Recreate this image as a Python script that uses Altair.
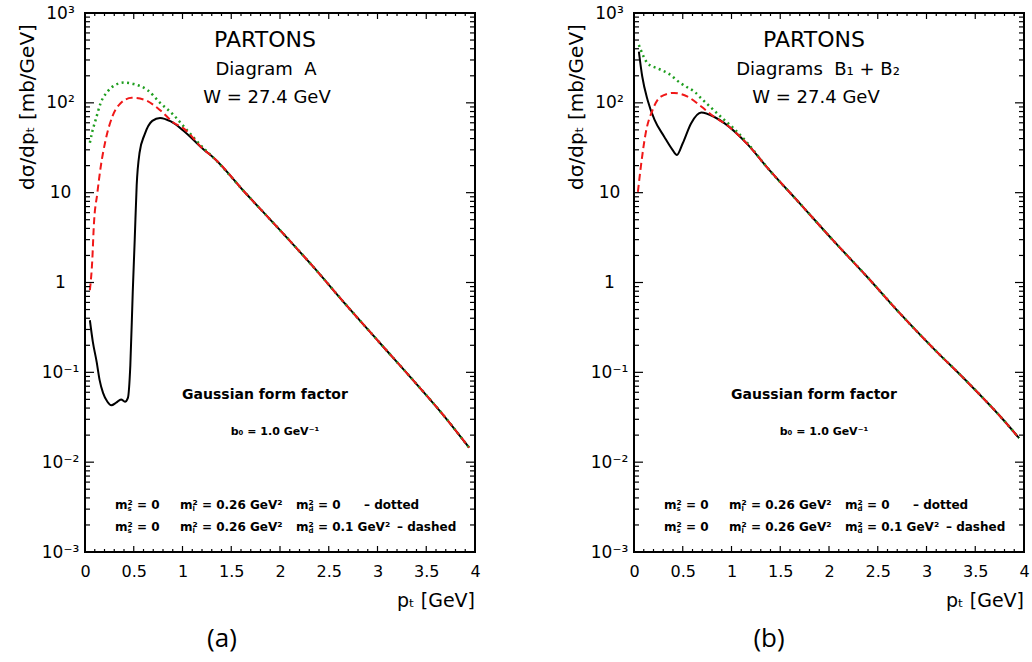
import altair as alt
import pandas as pd

# ---------------- data ----------------
# panel (a): Diagram A
a_tail_x = [1.31, 1.65, 2.0, 2.34, 2.68, 3.02, 3.36, 3.70, 3.94]
a_tail_y = [25, 9.8, 3.83, 1.50, 0.56, 0.215, 0.083, 0.031, 0.0145]
a_dotted_x = [0.05, 0.075, 0.11, 0.16, 0.23, 0.31, 0.40, 0.50, 0.64, 0.77, 0.91, 1.01, 1.22]
a_dotted_y = [36, 48, 65, 99, 133, 158, 168, 162, 139, 100, 73, 55, 31]
a_dashed_x = [0.05, 0.075, 0.09, 0.126, 0.16, 0.21, 0.28, 0.365, 0.48, 0.60, 0.77, 0.91, 1.01, 1.22]
a_dashed_y = [0.82, 1.8, 4.2, 9.8, 19, 38, 70, 99, 114, 109, 83, 60, 52, 30]
a_solid_x = [0.05, 0.08, 0.12, 0.15, 0.185, 0.23, 0.27, 0.32, 0.37, 0.41, 0.44, 0.465, 0.49,
             0.51, 0.53, 0.56, 0.61, 0.69, 0.77, 0.88, 1.01, 1.22]
a_solid_y = [0.38, 0.22, 0.13, 0.082, 0.059, 0.047, 0.043, 0.046, 0.050, 0.047, 0.052, 0.12, 0.8,
             3.0, 12, 28, 44, 63, 68, 62, 49, 30]

# panel (b): Diagrams B1 + B2
b_tail_x = [1.36, 1.70, 2.04, 2.39, 2.73, 3.07, 3.42, 3.76, 3.95]
b_tail_y = [19.4, 7.6, 2.96, 1.16, 0.45, 0.185, 0.078, 0.032, 0.0185]
b_dotted_x = [0.05, 0.07, 0.14, 0.24, 0.35, 0.48, 0.55, 0.62, 0.69, 0.76, 0.89, 1.03, 1.17]
b_dotted_y = [441, 387, 275, 242, 213, 165, 148, 133, 112, 95, 70, 51, 35]
b_dashed_x = [0.04, 0.07, 0.12, 0.19, 0.275, 0.41, 0.55, 0.69, 0.82, 0.93, 1.17]
b_dashed_y = [10.2, 19.4, 46, 83, 117, 129, 117, 91, 70, 59, 34]
b_solid_x = [0.05, 0.085, 0.14, 0.21, 0.31, 0.395, 0.44, 0.50, 0.585, 0.69, 0.82, 0.93, 1.17]
b_solid_y = [371, 195, 107, 65, 42, 30, 26.3, 35.5, 59, 78, 70, 59, 34]

# axis ticks
x_major = [0, 0.5, 1, 1.5, 2, 2.5, 3, 3.5, 4]
x_minor = [round(i * 0.1, 1) for i in range(41) if i % 5]
y_major = [1e-3, 1e-2, 1e-1, 1, 10, 100, 1000]
y_minor = [m * 10.0 ** e for e in range(-3, 3) for m in range(2, 10)]
y_labels = ["10⁻³", "10⁻²", "10⁻¹", "1", "10", "10²", "10³"]

W, H = 390, 539
FONT = "DejaVu Sans"
GREEN = "#1f9e1f"
RED = "#f01818"

xs = alt.Scale(domain=[0, 4], nice=False, zero=False)
ys = alt.Scale(type="log", domain=[1e-3, 1e3], nice=False)
xaxis = alt.Axis(values=x_major, format="~g", title=None, ticks=False, tickSize=0, domain=False,
                 grid=False, labelFont=FONT, labelFontSize=16, labelPadding=11, labelFlush=False,
                 labelOverlap=False, labelColor="black")
label_expr = "[" + ",".join("'%s'" % s for s in y_labels) + "][round(log(datum.value)/LN10)+3]"
yaxis = alt.Axis(values=y_major, labelExpr=label_expr, title=None, ticks=False, tickSize=0,
                 domain=False, grid=False, labelFont=FONT, labelFontSize=17, labelPadding=25,
                 labelAlign="center", labelBaseline="middle", labelFlush=False,
                 labelOverlap=False, labelColor="black")


def xenc(f):
    return alt.X(f + ":Q", scale=xs, axis=xaxis)


def yenc(f):
    return alt.Y(f + ":Q", scale=ys, axis=yaxis)


def line(xv, yv, color, dash, width):
    df = pd.DataFrame({"x": xv, "y": yv})
    kw = dict(color=color, strokeWidth=width, interpolate="monotone", clip=True)
    if dash:
        kw["strokeDash"] = dash
    return alt.Chart(df).mark_line(**kw).encode(x=xenc("x"), y=yenc("y"))


def text(t, px, py, size, weight="normal", align="center", angle=0, font=FONT):
    kw = dict(font=font, fontSize=size, fontWeight=weight, align=align, baseline="middle",
              color="black")
    if angle:
        kw["angle"] = angle
    return alt.Chart(pd.DataFrame({"t": [t]})).mark_text(**kw).encode(
        x=alt.value(px), y=alt.value(py), text="t:N")


def ticks():
    out = []
    for vals, ln in ((x_major, 6), (x_minor, 3)):
        d = pd.DataFrame({"v": vals})
        out.append(alt.Chart(d).mark_rule(color="black", strokeWidth=1.2).encode(
            x=xenc("v"), y=alt.value(H), y2=alt.value(H - ln)))
        out.append(alt.Chart(d).mark_rule(color="black", strokeWidth=1.2).encode(
            x=xenc("v"), y=alt.value(0), y2=alt.value(ln)))
    for vals, ln in ((y_major, 9), (y_minor, 5)):
        d = pd.DataFrame({"v": vals})
        out.append(alt.Chart(d).mark_rule(color="black", strokeWidth=1.2).encode(
            y=yenc("v"), x=alt.value(0), x2=alt.value(ln)))
        out.append(alt.Chart(d).mark_rule(color="black", strokeWidth=1.2).encode(
            y=yenc("v"), x=alt.value(W), x2=alt.value(W - ln)))
    return out


def bottom_lines():
    out = []
    for py, third, dash_txt, dash_x in ((492, "² = 0", "– dotted", 279),
                                        (514, "² = 0.1 GeV²", "– dashed", 312)):
        for mx, sub, rest in ((30, "s", "² = 0"), (95, "l", "² = 0.26 GeV²"), (211, "d", third)):
            out.append(text("m", mx, py, 12, "bold", "left"))
            out.append(text(sub, mx + 12.5, py + 4, 7, "bold", "left"))
            out.append(text(rest, mx + 12.5, py, 12, "bold", "left"))
        out.append(text(dash_txt, dash_x, py, 12, "bold", "left"))
    return out


def panel(dot, dash, solid, tail, title2, t2x, caption, capx):
    tx, ty = tail
    layers = [
        line(solid[0] + tx, solid[1] + ty, "black", None, 2),
        line(dot[0] + tx, dot[1] + ty, GREEN, [2, 3.5], 2.5),
        line(dash[0] + tx, dash[1] + ty, RED, [7, 4], 2),
    ]
    layers += ticks()
    layers += [
        text("PARTONS", 180, 27, 22),
        text(title2, t2x, 57, 18),
        text("W = 27.4 GeV", 182, 85, 18),
        text("Gaussian form factor", 180, 382, 14, "bold"),
        text("b₀ = 1.0 GeV⁻¹", 190, 419, 11, "bold"),
        text("dσ/dpₜ [mb/GeV]", -57, 94, 20, angle=270),
        text("pₜ [GeV]", W, 588, 19, align="right"),
        text(caption, capx, 626, 26, font="Open Sans"),
    ]
    layers += bottom_lines()
    return alt.layer(*layers).properties(width=W, height=H)


left = panel((a_dotted_x, a_dotted_y), (a_dashed_x, a_dashed_y), (a_solid_x, a_solid_y),
             (a_tail_x, a_tail_y), "Diagram\u00a0 A", 181, "(a)", 137)
right = panel((b_dotted_x, b_dotted_y), (b_dashed_x, b_dashed_y), (b_solid_x, b_solid_y),
              (b_tail_x, b_tail_y), "Diagrams\u00a0 B₁ + B₂", 184, "(b)", 135)

chart = alt.hconcat(left, right, spacing=84).properties(
    padding={"left": 17, "top": 3, "right": 0, "bottom": 6}, background="white"
).configure_view(stroke="black", strokeWidth=2)

chart.save("out.html", embed_options={"renderer": "svg", "actions": False})
